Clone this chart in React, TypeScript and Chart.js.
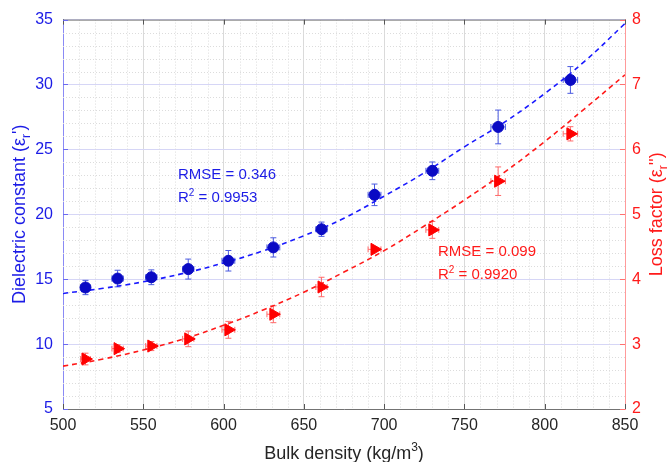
import React, { useEffect, useRef } from 'react';
import { Chart, registerables } from 'chart.js';

Chart.register(...registerables);

// ---- data ----
const density = [514, 534, 555, 578, 603, 631, 661, 694, 730, 771, 816];
const densityErr = [3, 3.5, 3.5, 3.5, 4, 4, 3.5, 4, 4, 4.5, 4.5];
const dielectric = [14.36, 15.05, 15.15, 15.78, 16.42, 17.45, 18.85, 21.5, 23.35, 26.73, 30.35];
const dielectricErr = [0.55, 0.64, 0.57, 0.77, 0.79, 0.74, 0.55, 0.83, 0.68, 1.3, 1.03];
const lossFactor = [2.77, 2.93, 2.97, 3.08, 3.22, 3.46, 3.88, 4.46, 4.76, 5.51, 6.24];
const lossErr = [0.09, 0.06, 0.07, 0.12, 0.13, 0.13, 0.15, 0.03, 0.13, 0.22, 0.11];

const fitDensity = [500, 525, 550, 575, 600, 625, 650, 675, 700, 725, 750, 775, 800, 825, 850];
const fitDielectric = [13.9, 14.3, 14.8, 15.45, 16.25, 17.2, 18.35, 19.7, 21.4, 23.2, 25.2, 27.1, 29.3, 31.8, 34.7];
const fitLoss = [2.66, 2.77, 2.91, 3.08, 3.29, 3.53, 3.8, 4.11, 4.44, 4.82, 5.22, 5.65, 6.12, 6.63, 7.15];

const xTicks = [500, 550, 600, 650, 700, 750, 800, 850];
const yTicks = [5, 10, 15, 20, 25, 30, 35];
const y2Ticks = [2, 3, 4, 5, 6, 7, 8];

const blueStats = ['RMSE = 0.346', '0.9953'];
const redStats = ['RMSE = 0.099', '0.9920'];

const FONT = '"Liberation Sans", Arial, Helvetica, sans-serif';
const BLUE = '#1c1ce6';
const RED = '#ff1a1a';

type Part = [string, number]; // 0 normal, 1 sub, 2 sup

function drawRich(
  ctx: CanvasRenderingContext2D,
  parts: Part[],
  x: number,
  y: number,
  rot: number,
  color: string,
  size: number,
  align: 'left' | 'center'
) {
  ctx.save();
  ctx.translate(x, y);
  ctx.rotate(rot);
  ctx.fillStyle = color;
  ctx.textBaseline = 'alphabetic';
  ctx.textAlign = 'left';
  const small = Math.round(size * 0.68);
  const fontFor = (m: number) => `${m === 0 ? size : small}px ${FONT}`;
  let total = 0;
  const widths = parts.map(([t, m]) => {
    ctx.font = fontFor(m);
    const w = ctx.measureText(t).width;
    total += w;
    return w;
  });
  let cx = align === 'center' ? -total / 2 : 0;
  parts.forEach(([t, m], i) => {
    ctx.font = fontFor(m);
    const dy = m === 1 ? size * 0.3 : m === 2 ? -size * 0.42 : 0;
    ctx.fillText(t, cx, dy);
    cx += widths[i];
  });
  ctx.restore();
}

const customPlugin = {
  id: 'custom',
  beforeDatasetsDraw(chart: any) {
    const { ctx, chartArea: ca, scales } = chart;
    const sx = scales.x, sy = scales.y, sy2 = scales.y2;
    ctx.save();
    // minor grid
    ctx.strokeStyle = '#dcdcdc';
    ctx.lineWidth = 1;
    ctx.setLineDash([1, 2]);
    for (let v = 510; v < 850; v += 10) {
      if (v % 50 === 0) continue;
      const px = Math.round(sx.getPixelForValue(v)) + 0.5;
      ctx.beginPath();
      ctx.moveTo(px, ca.top);
      ctx.lineTo(px, ca.bottom);
      ctx.stroke();
    }
    for (let v = 6; v < 35; v += 1) {
      if (v % 5 === 0) continue;
      const py = Math.round(sy.getPixelForValue(v)) + 0.5;
      ctx.beginPath();
      ctx.moveTo(ca.left, py);
      ctx.lineTo(ca.right, py);
      ctx.stroke();
    }
    ctx.setLineDash([]);

    // error bars
    const drawErr = (xs: number[], xe: number[], ys: number[], ye: number[], scale: any, color: string) => {
      ctx.strokeStyle = color;
      ctx.lineWidth = 1;
      const cap = 3;
      for (let i = 0; i < xs.length; i++) {
        const px = sx.getPixelForValue(xs[i]);
        const py = scale.getPixelForValue(ys[i]);
        const pyT = scale.getPixelForValue(ys[i] + ye[i]);
        const pyB = scale.getPixelForValue(ys[i] - ye[i]);
        const pxL = sx.getPixelForValue(xs[i] - xe[i]);
        const pxR = sx.getPixelForValue(xs[i] + xe[i]);
        ctx.beginPath();
        ctx.moveTo(px, pyT); ctx.lineTo(px, pyB);
        ctx.moveTo(px - cap, pyT); ctx.lineTo(px + cap, pyT);
        ctx.moveTo(px - cap, pyB); ctx.lineTo(px + cap, pyB);
        ctx.moveTo(pxL, py); ctx.lineTo(pxR, py);
        ctx.moveTo(pxL, py - cap); ctx.lineTo(pxL, py + cap);
        ctx.moveTo(pxR, py - cap); ctx.lineTo(pxR, py + cap);
        ctx.stroke();
      }
    };
    drawErr(density, densityErr, dielectric, dielectricErr, sy, '#4a5ae0');
    drawErr(density, densityErr, lossFactor, lossErr, sy2, '#ff6a6a');
    ctx.restore();
  },
  afterDraw(chart: any) {
    const { ctx, chartArea: ca, scales } = chart;
    const sx = scales.x, sy = scales.y, sy2 = scales.y2;
    ctx.save();
    // top border
    ctx.strokeStyle = '#737373';
    ctx.lineWidth = 1;
    ctx.beginPath();
    ctx.moveTo(ca.left, ca.top + 0.5);
    ctx.lineTo(ca.right, ca.top + 0.5);
    ctx.stroke();
    // inward ticks on x (bottom and top)
    ctx.strokeStyle = '#555555';
    xTicks.forEach((v) => {
      const px = Math.round(sx.getPixelForValue(v)) + 0.5;
      ctx.beginPath();
      ctx.moveTo(px, ca.bottom);
      ctx.lineTo(px, ca.bottom - 5);
      ctx.moveTo(px, ca.top);
      ctx.lineTo(px, ca.top + 5);
      ctx.stroke();
    });
    ctx.strokeStyle = '#6b6bf0';
    yTicks.forEach((v) => {
      const py = Math.round(sy.getPixelForValue(v)) + 0.5;
      ctx.beginPath();
      ctx.moveTo(ca.left, py);
      ctx.lineTo(ca.left + 5, py);
      ctx.stroke();
    });
    ctx.strokeStyle = '#ff7070';
    y2Ticks.forEach((v) => {
      const py = Math.round(sy2.getPixelForValue(v)) + 0.5;
      ctx.beginPath();
      ctx.moveTo(ca.right, py);
      ctx.lineTo(ca.right - 5, py);
      ctx.stroke();
    });
    ctx.restore();

    const midY = (ca.top + ca.bottom) / 2;
    drawRich(ctx, [['Dielectric constant (ε', 0], ['r', 1], ["')", 0]], 25, midY, -Math.PI / 2, BLUE, 18, 'center');
    drawRich(ctx, [['Loss factor (ε', 0], ['r', 1], ["'')", 0]], 662, midY, -Math.PI / 2, RED, 18, 'center');
    drawRich(ctx, [['Bulk density (kg/m', 0], ['3', 2], [')', 0]], (ca.left + ca.right) / 2, 459, 0, '#262626', 18, 'center');

    drawRich(ctx, [[blueStats[0], 0]], 178, 179, 0, BLUE, 15, 'left');
    drawRich(ctx, [['R', 0], ['2', 2], [' = ' + blueStats[1], 0]], 178, 202, 0, BLUE, 15, 'left');
    drawRich(ctx, [[redStats[0], 0]], 438, 256, 0, RED, 15, 'left');
    drawRich(ctx, [['R', 0], ['2', 2], [' = ' + redStats[1], 0]], 438, 279, 0, RED, 15, 'left');
  },
};

export default function App() {
  const ref = useRef<HTMLCanvasElement | null>(null);
  useEffect(() => {
    if (!ref.current) return;
    const chart = new Chart(ref.current, {
      type: 'scatter',
      data: {
        datasets: [
          {
            label: 'Dielectric constant',
            data: density.map((x, i) => ({ x, y: dielectric[i] })),
            yAxisID: 'y',
            pointStyle: 'circle',
            pointRadius: 5.5,
            backgroundColor: '#0a0ac4',
            borderColor: '#0a0ac4',
            borderWidth: 1,
          },
          {
            label: 'Loss factor',
            data: density.map((x, i) => ({ x, y: lossFactor[i] })),
            yAxisID: 'y2',
            pointStyle: 'triangle',
            rotation: 90,
            pointRadius: 7,
            backgroundColor: '#ff0000',
            borderColor: '#ff0000',
            borderWidth: 1,
          },
          {
            type: 'line',
            label: 'fit dielectric',
            data: fitDensity.map((x, i) => ({ x, y: fitDielectric[i] })),
            yAxisID: 'y',
            borderColor: '#1a1aff',
            borderWidth: 1.6,
            borderDash: [5, 4],
            pointRadius: 0,
            tension: 0.4,
            fill: false,
          } as any,
          {
            type: 'line',
            label: 'fit loss',
            data: fitDensity.map((x, i) => ({ x, y: fitLoss[i] })),
            yAxisID: 'y2',
            borderColor: '#ff1a1a',
            borderWidth: 1.6,
            borderDash: [5, 4],
            pointRadius: 0,
            tension: 0.4,
            fill: false,
          } as any,
        ],
      },
      options: {
        responsive: false,
        animation: false,
        layout: { padding: { top: 17, left: 0, right: 0, bottom: 0 } },
        plugins: { legend: { display: false }, tooltip: { enabled: false } },
        scales: {
          x: {
            type: 'linear',
            position: 'bottom',
            min: 500,
            max: 850,
            afterBuildTicks: (s: any) => { s.ticks = xTicks.map((v) => ({ value: v })); },
            afterFit: (s: any) => { s.height = 53; },
            ticks: { color: '#262626', font: { family: FONT, size: 16 }, padding: 7, maxRotation: 0 },
            grid: { color: '#dadada', lineWidth: 1, drawTicks: false },
            border: { color: '#737373', width: 1 },
          },
          y: {
            type: 'linear',
            position: 'left',
            min: 5,
            max: 35,
            afterBuildTicks: (s: any) => { s.ticks = yTicks.map((v) => ({ value: v })); },
            afterFit: (s: any) => { s.width = 63; },
            ticks: { color: BLUE, font: { family: FONT, size: 16 }, padding: 10 },
            grid: { color: '#d6d6f6', lineWidth: 1, drawTicks: false },
            border: { color: '#8a8af5', width: 1 },
          },
          y2: {
            type: 'linear',
            position: 'right',
            min: 2,
            max: 8,
            afterBuildTicks: (s: any) => { s.ticks = y2Ticks.map((v) => ({ value: v })); },
            afterFit: (s: any) => { s.width = 42; },
            ticks: { color: RED, font: { family: FONT, size: 16 }, padding: 7 },
            grid: { display: false, drawTicks: false },
            border: { color: '#ff9a9a', width: 1 },
          },
        },
      } as any,
      plugins: [customPlugin],
    });
    return () => chart.destroy();
  }, []);
  return (
    <div style={{ position: 'fixed', left: 0, top: 0, width: 667, height: 462, background: '#fff' }}>
      <canvas ref={ref} width={667} height={462} />
    </div>
  );
}
